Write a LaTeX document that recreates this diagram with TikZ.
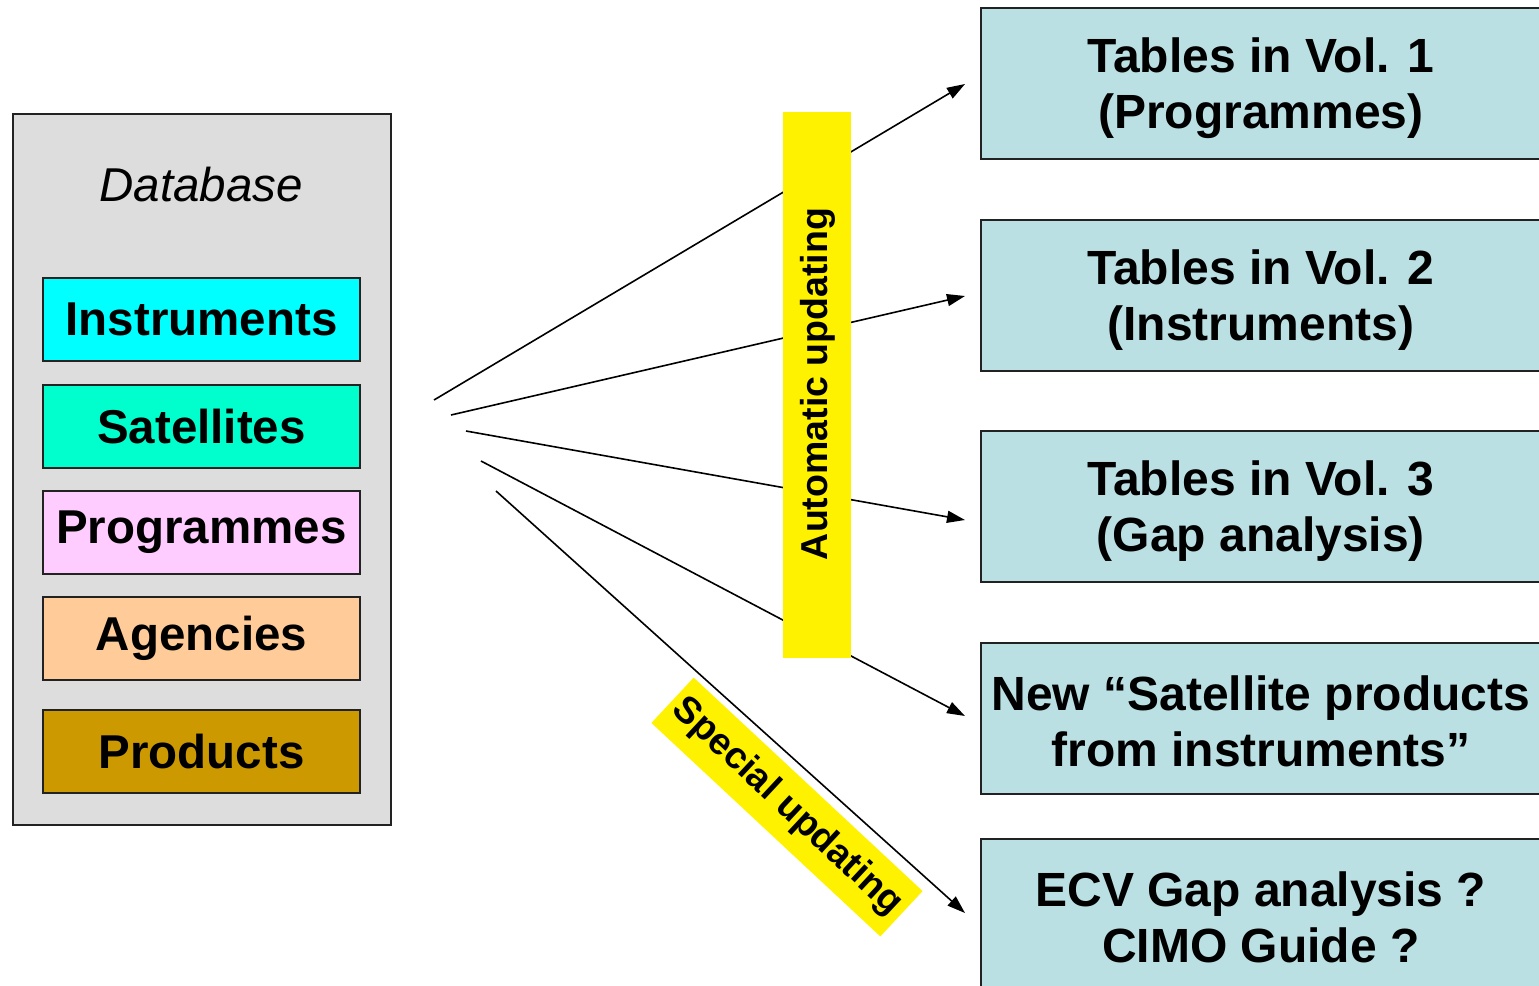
\documentclass[tikz,border=0pt]{standalone}
\usepackage{fontspec}
\setmainfont{Liberation Sans}
\usetikzlibrary{arrows.meta}
\definecolor{dbgray}{HTML}{DDDDDD}
\definecolor{cinstr}{HTML}{00FFFF}
\definecolor{csat}{HTML}{00FFCC}
\definecolor{cprog}{HTML}{FFCCFF}
\definecolor{cagen}{HTML}{FFCC99}
\definecolor{cprod}{HTML}{CC9900}
\definecolor{outbox}{HTML}{BBE0E3}
\definecolor{edge}{HTML}{222222}
\tikzset{
  dbitem/.style={draw=edge, line width=1.6pt, minimum width=317pt, minimum height=83pt,
    inner sep=0pt, font=\fontsize{47.5}{56}\selectfont\bfseries},
  outnode/.style={draw=edge, line width=1.6pt, fill=outbox, minimum width=560pt, minimum height=151pt,
    inner sep=0pt, anchor=north west},
  outtext/.style={inner sep=0pt, align=center, font=\fontsize{48}{56.5}\selectfont\bfseries},
  feed/.style={line width=1.6pt, -{Triangle[length=18pt,width=12pt]}},
  yellowtag/.style={fill=yellow, inner sep=0pt, font=\fontsize{37.5}{44}\selectfont\bfseries}
}
\begin{document}
\begin{tikzpicture}[x=1pt,y=-1pt]
\useasboundingbox (0,0) rectangle (1539,985);
\begin{scope}
\clip (0,0) rectangle (1539,985);
% database container
\node[draw=edge, line width=1.6pt, fill=dbgray, minimum width=378pt, minimum height=711pt,
  inner sep=0pt, anchor=north west] (db) at (12,113) {};
\node[font=\fontsize{47.5}{56}\selectfont\itshape] (dbt) at (201,185) {Database};
\node[dbitem, fill=cinstr] (instr) at (201.5,319.5) {Instruments};
\node[dbitem, fill=csat] (sat) at (201.5,426.5) {Satellites};
\node[dbitem, fill=cprog] (prog) at (201.5,532.5) {Programmes};
\node[dbitem, fill=cagen] (agen) at (201.5,638.5) {Agencies};
\node[dbitem, fill=cprod] (prod) at (201.5,751.5) {Products};
% output boxes
\node[outnode] (v1) at (980,7) {};
\node[outnode] (v2) at (980,219) {};
\node[outnode] (v3) at (980,430) {};
\node[outnode] (v4) at (980,642) {};
\node[outnode, minimum height=153pt] (v5) at (980,838) {};
\node[outtext] (v1t) at ([yshift=-5pt]v1.center) {Tables in Vol. 1\\(Programmes)};
\node[outtext] (v2t) at ([yshift=-5pt]v2.center) {Tables in Vol. 2\\(Instruments)};
\node[outtext] (v3t) at ([yshift=-5pt]v3.center) {Tables in Vol. 3\\(Gap analysis)};
\node[outtext] (v4t) at ([yshift=-3pt]v4.center) {New “Satellite products\\from instruments”};
\node[outtext] (v5t) at ([yshift=-2pt]v5.center) {ECV Gap analysis ?\\CIMO Guide ?};
% special updating label
\node[yellowtag, rotate=-43, minimum width=313pt, minimum height=62pt] (spec) at (787,807) {Special updating};
% connector endpoints
\coordinate (s1) at (434,400);
\coordinate (s2) at (451,415);
\coordinate (s3) at (466,431);
\coordinate (s4) at (481,461);
\coordinate (s5) at (496,491);
\coordinate (e1) at (965,84);
\coordinate (e2) at (965,296);
\coordinate (e3) at (965,520);
\coordinate (e4) at (965,716);
\coordinate (e5) at (965,913);
\draw[feed] (s1) -- (e1);
\draw[feed] (s2) -- (e2);
\draw[feed] (s3) -- (e3);
\draw[feed] (s4) -- (e4);
\draw[feed] (s5) -- (e5);
% automatic updating bar
\node[yellowtag, minimum width=68pt, minimum height=546pt] (auto) at (817,385) {};
\node[font=\fontsize{37.5}{44}\selectfont\bfseries, rotate=90, inner sep=0pt] (autot) at (818,384) {Automatic updating};
\end{scope}
\end{tikzpicture}
\end{document}
